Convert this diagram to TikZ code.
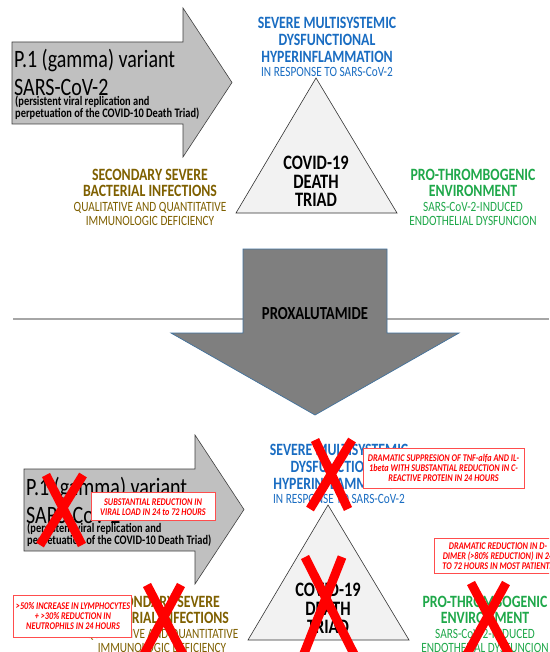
\documentclass[tikz,border=0pt]{standalone}
\usepackage{fontspec}
\usepackage{graphicx}
\setmainfont{Carlito}
\definecolor{tblue}{HTML}{1A6DC2}
\definecolor{tgreen}{HTML}{1FA84A}
\definecolor{tbrown}{HTML}{7F6000}
\definecolor{arrowgray}{HTML}{C0C0C0}
\definecolor{darkarrow}{HTML}{7F7F7F}
\definecolor{darrowline}{HTML}{41719C}
\definecolor{boxred}{HTML}{FF4D4D}
\tikzset{
  rarrow/.style={fill=arrowgray, draw=black!75, line width=0.6pt},
  darrowsty/.style={fill=darkarrow, draw=darrowline, line width=0.7pt},
  tri/.style={fill=black!5, draw=black!80, line width=0.6pt},
  sepline/.style={draw=black!35, line width=1.6pt},
  txt/.style={anchor=base, inner sep=0pt},
  vtext/.style={txt, anchor=base west, font=\fontsize{20}{24}\selectfont},
  vsmall/.style={txt, anchor=base west, font=\bfseries\fontsize{10.4}{12}\selectfont},
  triadtext/.style={txt, font=\bfseries\fontsize{16.4}{18}\selectfont},
  headtext/.style={txt, font=\bfseries\fontsize{13.8}{16}\selectfont},
  subtext/.style={txt, font=\fontsize{11.3}{13}\selectfont},
  proxtext/.style={txt, font=\bfseries\fontsize{14.7}{16}\selectfont},
  redtext/.style={txt, text=red, font=\bfseries\itshape\fontsize{8.2}{10}\selectfont},
  redx/.style={draw=red, line width=9pt},
  redbox/.style={draw=boxred, fill=white, line width=0.8pt, inner sep=0pt},
}
\newcommand\txtline[5]{\node[#1] (#2) at (#3,#4) {\scalebox{1}[1.25]{#5}};}
\newcommand\triadsection[1]{%
  \draw[rarrow] (12,42) -- (183,42) -- (183,8) -- (232,82.5) -- (183,157) -- (183,124) -- (12,124) -- cycle;
  \txtline{vtext}{#1v1}{14}{68}{P.1 (gamma) variant}
  \txtline{vtext}{#1v2}{14}{96}{SARS-CoV-2}
  \txtline{vsmall}{#1v3}{15}{105.2}{(persistent viral replication and}
  \txtline{vsmall}{#1v4}{15}{117.7}{perpetuation of the COVID-10 Death Triad)}
  \draw[tri] (316,78) -- (397,213) -- (236,213) -- cycle;
  \txtline{triadtext}{#1tr1}{316}{169.6}{COVID-19}
  \txtline{triadtext}{#1tr2}{316}{188.6}{DEATH}
  \txtline{triadtext}{#1tr3}{316}{206.8}{TRIAD}
  \txtline{headtext, text=tblue}{#1bh1}{327}{28.8}{SEVERE MULTISYSTEMIC}
  \txtline{headtext, text=tblue}{#1bh2}{327}{45.6}{DYSFUNCTIONAL}
  \txtline{headtext, text=tblue}{#1bh3}{327}{62.3}{HYPERINFLAMMATION}
  \txtline{subtext, text=tblue}{#1bs1}{327}{76.5}{IN RESPONSE TO SARS-CoV-2}
  \txtline{headtext, text=tbrown}{#1rh1}{150}{180.5}{SECONDARY SEVERE}
  \txtline{headtext, text=tbrown}{#1rh2}{150}{196.8}{BACTERIAL INFECTIONS}
  \txtline{subtext, text=tbrown}{#1rs1}{150}{211.5}{QUALITATIVE AND QUANTITATIVE}
  \txtline{subtext, text=tbrown}{#1rs2}{150}{225.5}{IMMUNOLOGIC DEFICIENCY}
  \txtline{headtext, text=tgreen}{#1gh1}{473}{180.5}{PRO-THROMBOGENIC}
  \txtline{headtext, text=tgreen}{#1gh2}{473}{196.8}{ENVIRONMENT}
  \txtline{subtext, text=tgreen}{#1gs1}{473}{211.5}{SARS-CoV-2-INDUCED}
  \txtline{subtext, text=tgreen}{#1gs2}{473}{225.5}{ENDOTHELIAL DYSFUNCION}
}
\begin{document}
\begin{tikzpicture}[x=1pt,y=-1pt]
\useasboundingbox (0,0) rectangle (549,652);
\clip (0,0) rectangle (549,652);
\fill[white] (0,0) rectangle (549,652);
% top section
\triadsection{t}
% separator and proxalutamide arrow
\draw[sepline] (13,319) -- (549,319);
\draw[darrowsty] (243,249) -- (387,249) -- (387,333) -- (459,333) -- (315,415) -- (171,333) -- (243,333) -- cycle;
\txtline{proxtext}{prox}{315}{319.9}{PROXALUTAMIDE}
% bottom section
\begin{scope}[shift={(12,427)}]
\triadsection{b}
\end{scope}
% red crosses
\draw[redx] (46,475) -- (82,545) (83,475) -- (40,545);
\draw[redx] (315,440) -- (348,509) (352,440) -- (310,509);
\draw[redx] (147,585) -- (184,656) (181,585) -- (143,656);
\draw[redx] (305,557) -- (355,656) (342,557) -- (303,656);
\draw[redx] (471,583) -- (510,656) (506,583) -- (466,656);
% red boxes
\node[redbox, minimum width=124, minimum height=27.5] (ra) at (153,506.5) {};
\txtline{redtext}{ra1}{153}{505}{SUBSTANTIAL REDUCTION IN}
\txtline{redtext}{ra2}{153}{515}{VIRAL LOAD IN 24 to 72 HOURS}
\node[redbox, minimum width=161, minimum height=40] (rb) at (443.5,468) {};
\txtline{redtext}{rb1}{443.5}{461.6}{DRAMATIC SUPPRESION OF TNF-alfa AND IL-}
\txtline{redtext}{rb2}{443.5}{471.6}{1beta WITH SUBSTANTIAL REDUCTION IN C-}
\txtline{redtext}{rb3}{443.5}{481.6}{REACTIVE PROTEIN IN 24 HOURS}
\node[redbox, minimum width=128, minimum height=35] (rc) at (498,555.5) {};
\txtline{redtext}{rc1}{498}{549.3}{DRAMATIC REDUCTION IN D-}
\txtline{redtext}{rc2}{498}{559}{DIMER (>80\% REDUCTION) IN 24}
\txtline{redtext}{rc3}{498}{569}{TO 72 HOURS IN MOST PATIENTS}
\node[redbox, minimum width=118, minimum height=42] (rd) at (72,616) {};
\txtline{redtext}{rd1}{73}{609.3}{>50\% INCREASE IN LYMPHOCYTES}
\txtline{redtext}{rd2}{73}{619.3}{+ >30\% REDUCTION IN}
\txtline{redtext}{rd3}{73}{629.3}{NEUTROPHILS IN 24 HOURS}
\end{tikzpicture}
\end{document}
